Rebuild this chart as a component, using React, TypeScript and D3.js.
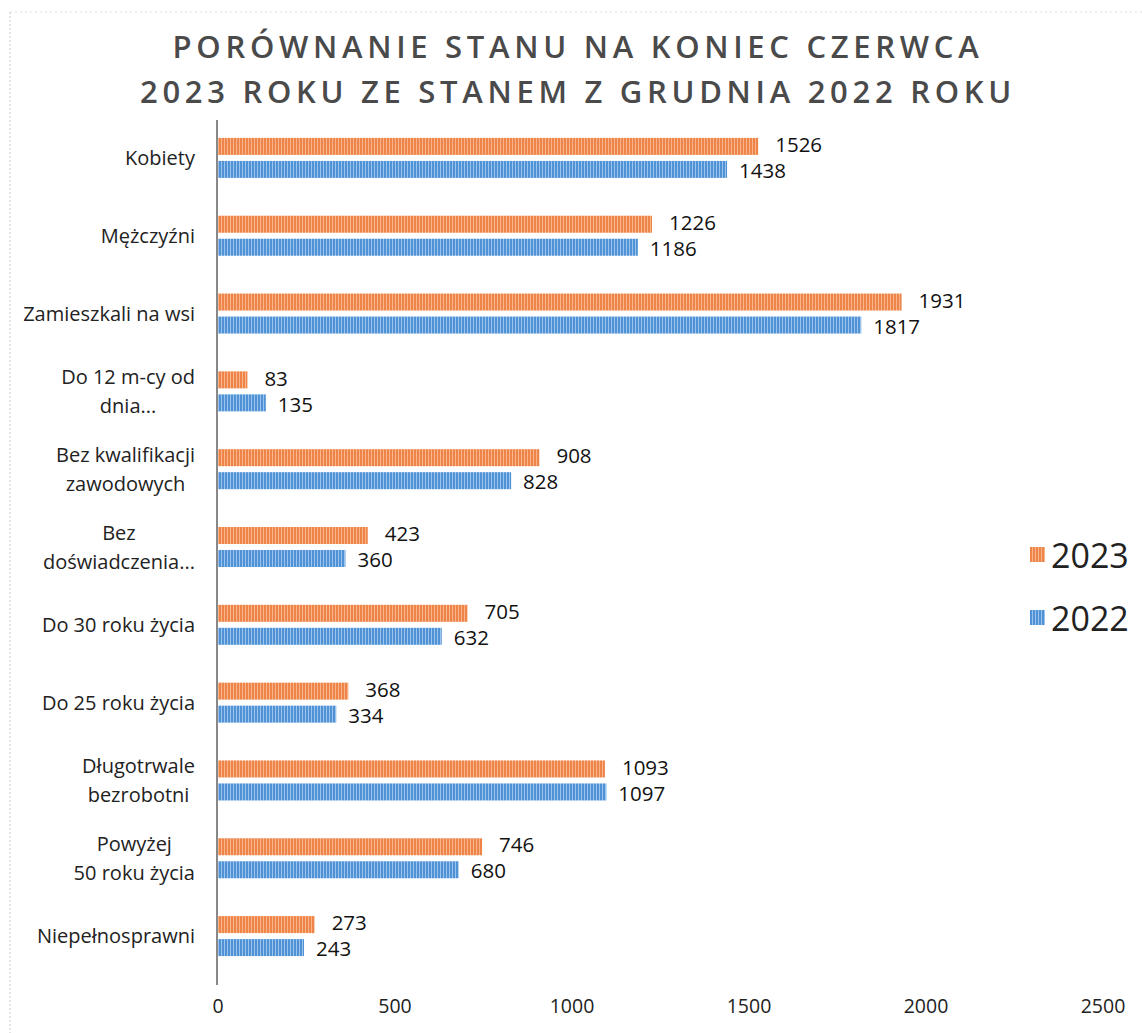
import React from "react";
import * as d3 from "d3";

const categories: string[][] = [
  ["Kobiety"],
  ["Mężczyźni"],
  ["Zamieszkali na wsi"],
  ["Do 12 m-cy od", "dnia..."],
  ["Bez kwalifikacji", "zawodowych"],
  ["Bez", "doświadczenia..."],
  ["Do 30 roku życia"],
  ["Do 25 roku życia"],
  ["Długotrwale", "bezrobotni"],
  ["Powyżej", "50 roku życia"],
  ["Niepełnosprawni"],
];
const values2023 = [1526, 1226, 1931, 83, 908, 423, 705, 368, 1093, 746, 273];
const values2022 = [1438, 1186, 1817, 135, 828, 360, 632, 334, 1097, 680, 243];
const xTicks = [0, 500, 1000, 1500, 2000, 2500];
const titleLines = ["PORÓWNANIE STANU NA KONIEC CZERWCA", "2023 ROKU ZE STANEM Z GRUDNIA 2022 ROKU"];
const seriesNames = ["2023", "2022"];

const FONT = "'Open Sans', 'Noto Sans', sans-serif";
const LABEL_FONT_SIZE = 20;

let ctx: CanvasRenderingContext2D | null = null;
function measure(t: string, size: number) {
  if (typeof document === "undefined") return t.length * size * 0.5;
  if (!ctx) ctx = document.createElement("canvas").getContext("2d");
  if (!ctx) return t.length * size * 0.5;
  ctx.font = `${size}px 'Open Sans'`;
  return ctx.measureText(t).width;
}

export default function App() {
  const W = 1142, H = 1033;
  const x = d3.scaleLinear().domain([0, 2500]).range([218, 1103]);
  const y = d3.scaleBand<number>().domain(d3.range(categories.length)).range([119, 975]);
  const barH = 17;
  const gap = 6;
  const labelRight = 195;

  return (
    <svg width={W} height={H} style={{ position: "absolute", left: 0, top: 0, background: "#fff" }} fontFamily={FONT}>
      <defs>
        <pattern id="pOrange" width="3" height="4" patternUnits="userSpaceOnUse">
          <rect width="3" height="4" fill="#EE8447" />
          <rect x="2" width="1" height="4" fill="#F6B58C" />
        </pattern>
        <pattern id="pBlue" width="3" height="4" patternUnits="userSpaceOnUse">
          <rect width="3" height="4" fill="#4F93D6" />
          <rect x="2" width="1" height="4" fill="#9CC3EC" />
        </pattern>
      </defs>
      <rect width={W} height={H} fill="#fff" />
      {/* scan borders */}
      <line x1={10} y1={12} x2={10} y2={H} stroke="#c8c8c8" strokeDasharray="2 2" />
      <line x1={10} y1={12} x2={W} y2={12} stroke="#dcdcdc" strokeDasharray="2 3" />

      {titleLines.map((t, i) => (
        <text key={i} x={578} y={58 + i * 45} textAnchor="middle" fontSize={31} fontWeight={600}
          letterSpacing={4.7} fill="#4a4a4a">{t}</text>
      ))}

      {/* bars */}
      {categories.map((_, i) => {
        const c = (y(i) as number) + y.bandwidth() / 2;
        const y1 = c - gap / 2 - barH;
        const y2 = c + gap / 2;
        return (
          <g key={i}>
            <rect x={x(0)} y={y1} width={x(values2023[i]) - x(0)} height={barH} fill="url(#pOrange)" />
            <rect x={x(0)} y={y2} width={x(values2022[i]) - x(0)} height={barH} fill="url(#pBlue)" />
            <text x={x(values2023[i]) + 17} y={y1 + barH / 2 - 1.5} dy="0.35em" fontSize={20.5} fill="#111">{values2023[i]}</text>
            <text x={x(values2022[i]) + 12} y={y2 + barH / 2 + 1.5} dy="0.35em" fontSize={20.5} fill="#111">{values2022[i]}</text>
          </g>
        );
      })}

      {/* axis line */}
      <line x1={217} y1={120} x2={217} y2={985} stroke="#888" strokeWidth={2} />

      {/* category labels */}
      {categories.map((lines, i) => {
        const c = (y(i) as number) + y.bandwidth() / 2;
        const maxW = Math.max(...lines.map((l) => measure(l, LABEL_FONT_SIZE)));
        const cx = labelRight - maxW / 2;
        const lh = 29;
        const top = c - ((lines.length - 1) * lh) / 2;
        return lines.map((l, j) => (
          <text key={`${i}-${j}`} x={lines.length > 1 ? cx : labelRight} y={top + j * lh} dy="0.35em"
            textAnchor={lines.length > 1 ? "middle" : "end"} fontSize={LABEL_FONT_SIZE} fill="#222">{l}</text>
        ));
      })}

      {/* x ticks */}
      {xTicks.map((t) => (
        <text key={t} x={x(t)} y={1006} dy="0.35em" textAnchor="middle" fontSize={19.5} fill="#222">{t}</text>
      ))}

      {/* legend */}
      {seriesNames.map((s, i) => (
        <g key={s} transform={`translate(1030, ${555 + i * 63})`}>
          <rect x={0} y={-8} width={15} height={15} fill={i === 0 ? "url(#pOrange)" : "url(#pBlue)"} />
          <text x={21} y={1} dy="0.35em" fontSize={34} fill="#222">{s}</text>
        </g>
      ))}
    </svg>
  );
}
